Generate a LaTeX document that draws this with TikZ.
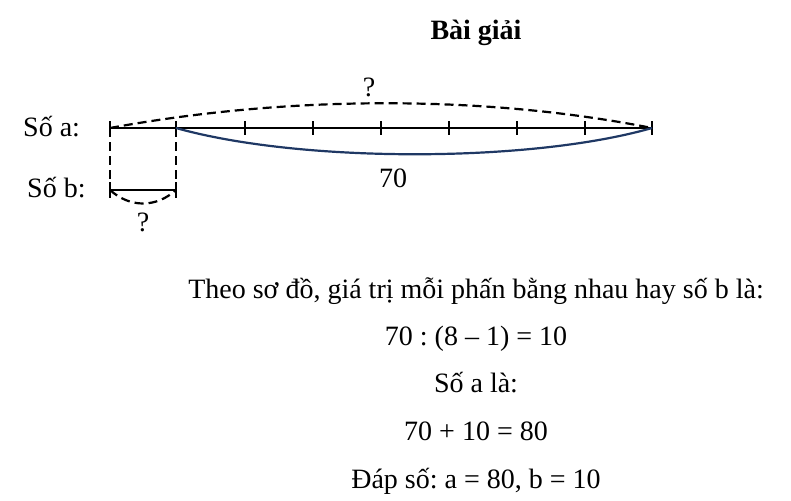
\documentclass[tikz,border=0pt]{standalone}
\usepackage{fontspec}
\setmainfont{Liberation Serif}
\usepackage{xcolor}
\usepackage{tikz}
\definecolor{navyline}{HTML}{1F3864}
\frenchspacing

\begin{document}
\begin{tikzpicture}[x=1pt,y=-1pt,
    txt/.style={inner sep=0pt,font=\fontsize{28}{32}\selectfont},
    seg/.style={color=black,line width=2.2pt},
    dashseg/.style={color=black,line width=2.2pt,dash pattern=on 9pt off 5pt}]
      \useasboundingbox (0,0) rectangle (791,500);
      % the segments
      \coordinate (a0) at (110,128);
      \coordinate (a1) at (176,128);
      \coordinate (a8) at (652,128);
      \coordinate (b0) at (110,190);
      \coordinate (b1) at (176,190);
      \draw[seg] (a0) -- (a8);
      \foreach \x in {110,176,245,313,381,449,517,585,652}
        \draw[seg] (\x,121) -- (\x,135);
      \draw[seg] (b0) -- (b1);
      \draw[seg] (110,182) -- (110,198);
      \draw[seg] (176,182) -- (176,198);
      \draw[dashseg] (a0) -- (b0);
      \draw[dashseg] (a1) -- (b1);
      % braces
      \draw[dashseg] (a0) .. controls (290,95) and (485,95) .. (a8);
      \draw[color=navyline,line width=2.2pt] (a1) .. controls (300,163) and (530,163) .. (a8);
      \draw[dashseg] (b0) .. controls (130,208) and (156,208) .. (b1);
      % labels
      \node[txt,anchor=base west] (la) at (23,136) {Số a:};
      \node[txt,anchor=base west] (lb) at (27,197) {Số b:};
      \node[txt,anchor=base] (qa) at (369,96) {?};
      \node[txt,anchor=base] (qb) at (143,231) {?};
      \node[txt,anchor=base] (sum) at (393,187) {70};
      % the solution
      \node[txt,anchor=base,font=\fontsize{28}{32}\selectfont\bfseries] (title) at (476,40) {Bài giải};
      \node[txt,anchor=base] (l1) at (476,298) {Theo sơ đồ, giá trị mỗi phấn bằng nhau hay số b là:};
      \node[txt,anchor=base] (l2) at (476,345) {70 : (8 – 1) = 10};
      \node[txt,anchor=base] (l3) at (476,392) {Số a là:};
      \node[txt,anchor=base] (l4) at (476,440) {70 + 10 = 80};
      \node[txt,anchor=base] (l5) at (476,488) {Đáp số: a = 80, b = 10};
\end{tikzpicture}
\end{document}
